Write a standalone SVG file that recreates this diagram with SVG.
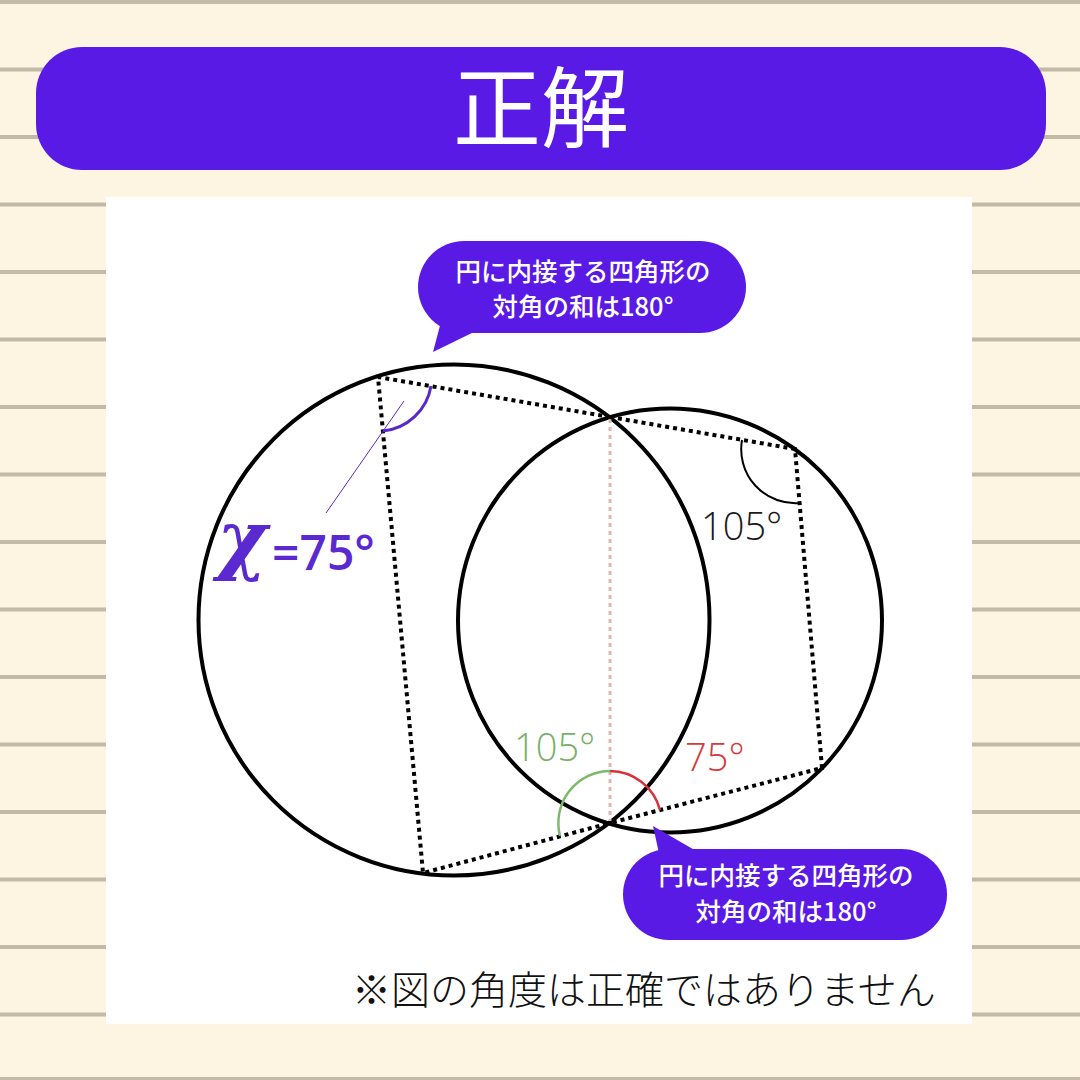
<svg xmlns="http://www.w3.org/2000/svg" width="1080" height="1080" viewBox="0 0 1080 1080">
<style>
.rule{stroke:#C3B9A6;stroke-width:4}
.circ{fill:none;stroke:#000;stroke-width:4}
.dot{fill:none;stroke:#000;stroke-width:4;stroke-dasharray:4 4}
.bub{fill:#5A1AE6}
.bt{font-family:"Noto Sans CJK JP","Noto Sans",sans-serif;font-weight:500;font-size:25.5px;fill:#fff;text-anchor:middle}
.ang{font-family:"Open Sans","Noto Sans",sans-serif;font-weight:300;font-size:38px}
</style>
<rect width="1080" height="1080" fill="#FDF4E1"/>
<g id="rules">
<line class="rule" x1="0" y1="2" x2="1080" y2="2"/>
<line class="rule" x1="0" y1="69.5" x2="1080" y2="69.5"/>
<line class="rule" x1="0" y1="137" x2="1080" y2="137"/>
<line class="rule" x1="0" y1="204.5" x2="1080" y2="204.5"/>
<line class="rule" x1="0" y1="272" x2="1080" y2="272"/>
<line class="rule" x1="0" y1="339.5" x2="1080" y2="339.5"/>
<line class="rule" x1="0" y1="407" x2="1080" y2="407"/>
<line class="rule" x1="0" y1="474.5" x2="1080" y2="474.5"/>
<line class="rule" x1="0" y1="542" x2="1080" y2="542"/>
<line class="rule" x1="0" y1="609.5" x2="1080" y2="609.5"/>
<line class="rule" x1="0" y1="677" x2="1080" y2="677"/>
<line class="rule" x1="0" y1="744.5" x2="1080" y2="744.5"/>
<line class="rule" x1="0" y1="812" x2="1080" y2="812"/>
<line class="rule" x1="0" y1="879.5" x2="1080" y2="879.5"/>
<line class="rule" x1="0" y1="947" x2="1080" y2="947"/>
<line class="rule" x1="0" y1="1014.5" x2="1080" y2="1014.5"/>
<line class="rule" x1="0" y1="1079" x2="1080" y2="1079"/>
</g>
<g id="header">
<rect x="36" y="47" width="1010" height="123" rx="46" fill="#5A1AE6"/>
<text x="541" y="140" font-family="Noto Sans CJK JP,sans-serif" font-size="88" font-weight="400" fill="#fff" text-anchor="middle">正解</text>
</g>
<rect id="panel" x="106" y="197" width="866" height="827" fill="#fff"/>
<g id="circles">
<circle id="circleL" class="circ" cx="454" cy="620" r="255.5"/>
<circle id="circleR" class="circ" cx="670" cy="620.5" r="212"/>
</g>
<g id="connectors">
<line x1="610" y1="419" x2="610" y2="821" stroke="#DDB7B2" stroke-width="3" stroke-dasharray="4 4"/>
<polyline class="dot" points="610,417 378,377 423,873 610,823"/>
<polyline class="dot" points="610,417 795,449 822,768 610,823"/>
<line x1="404" y1="401" x2="326" y2="513" stroke="#5A2AC8" stroke-width="1"/>
</g>
<g id="angles">
<path d="M383,431 A54,54 0 0 0 431,386" fill="none" stroke="#5A2AC8" stroke-width="3"/>
<path d="M742,440 A54,54 0 0 0 800,503" fill="none" stroke="#000" stroke-width="2"/>
<path d="M560,836 A52,52 0 0 1 610,771" fill="none" stroke="#7DB96A" stroke-width="2.5"/>
<path d="M610,771 A52,52 0 0 1 660,810" fill="none" stroke="#D8333A" stroke-width="2.5"/>
</g>
<g id="labels">
<text x="217" y="565" font-family="DejaVu Serif,serif" font-style="italic" font-weight="bold" font-size="76" fill="#5A2AD0">χ</text>
<text x="272" y="570" font-family="Open Sans,sans-serif" font-weight="600" font-size="48" fill="#5A2AD0">=75°</text>
<text class="ang" x="701" y="540" fill="#1a1a1a">105°</text>
<text class="ang" x="514" y="761" fill="#78B068">105°</text>
<text class="ang" x="685" y="771" fill="#D8383A">75°</text>
</g>
<g id="bubbleTop">
<path class="bub" d="M442,318 L433,352 L478,330 Z"/>
<rect class="bub" x="418" y="241" width="328" height="92" rx="46"/>
<text class="bt" x="583" y="281">円に内接する四角形の</text>
<text class="bt" x="583" y="316">対角の和は180°</text>
</g>
<g id="bubbleBottom">
<path class="bub" d="M653,826 L660,858 L698,852 Z"/>
<rect class="bub" x="623" y="849" width="324" height="91" rx="45.5"/>
<text class="bt" x="786" y="885">円に内接する四角形の</text>
<text class="bt" x="786" y="921">対角の和は180°</text>
</g>
<text id="note" x="352" y="1004" font-family="Noto Sans CJK JP,sans-serif" font-weight="300" font-size="39" fill="#111">※図の角度は正確ではありません</text>
</svg>
